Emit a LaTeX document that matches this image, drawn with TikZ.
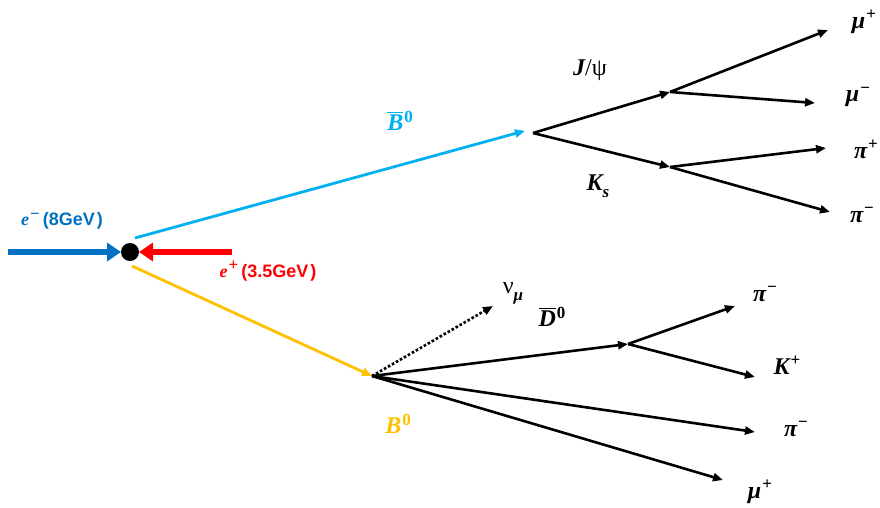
\documentclass[tikz,border=0pt]{standalone}
\usepackage{fontspec}
\newfontfamily\gsans{Liberation Sans}
\newfontfamily\pf{Liberation Serif}
\usetikzlibrary{arrows.meta}
\definecolor{ebl}{RGB}{0,112,192}
\definecolor{ered}{RGB}{255,0,0}
\definecolor{lbl}{RGB}{0,176,240}
\definecolor{yel}{RGB}{255,192,0}
\newcommand\pbi[1]{{\pf\bfseries\itshape #1}}
\newcommand\psup[1]{\hspace{1pt}\raisebox{0.36em}{\fontsize{17}{17}\selectfont\pf\bfseries\upshape #1}}
\newcommand\psub[1]{\raisebox{-0.28em}{\fontsize{17}{17}\selectfont\pf\bfseries\itshape #1}}
\newcommand\pbar[1]{\leavevmode\vbox{\hrule height 1.6pt\kern 1.8pt\hbox{#1}}}
\tikzset{
  trk/.style={line width=2.6pt,-{Triangle[length=10pt,width=8pt]}},
  beam/.style={line width=6pt,-{Triangle[length=14pt,width=18pt]}},
  lab/.style={inner sep=0pt,font=\fontsize{24}{26}\selectfont\pf},
  elab/.style={inner sep=0pt,font=\fontsize{18}{20}\selectfont},
}
\begin{document}
\begin{tikzpicture}[x=1pt,y=-1pt]
\useasboundingbox (0,0) rectangle (880,507);
% vertices
\coordinate (ip) at (130,252);
\coordinate (bbv) at (533,133);
\coordinate (jv) at (670,92);
\coordinate (kv) at (670,167);
\coordinate (bv) at (372,376);
\coordinate (dv) at (628,344);
% ends
\coordinate (emS) at (8,252);
\coordinate (emE) at (121,252);
\coordinate (epS) at (232,252);
\coordinate (epE) at (139,252);
\coordinate (bbS) at (135,238);
\coordinate (bS) at (132,266);
\coordinate (mupE) at (828,30);
\coordinate (mumE) at (815,103);
\coordinate (pipE) at (826,148);
\coordinate (pimE) at (830,212);
\coordinate (nuE) at (493,306);
\coordinate (dpimE) at (735,306);
\coordinate (kpE) at (755,377);
\coordinate (bpimE) at (755,432);
\coordinate (bmupE) at (723,480);
% beams
\draw[beam,ebl] (emS) -- (emE);
\draw[beam,ered] (epS) -- (epE);
\fill (ip) circle (9);
% B mesons
\draw[trk,lbl,line width=2.8pt] (bbS) -- ([xshift=-8pt,yshift=2.2pt]bbv);
\draw[trk,yel,line width=2.8pt] (bS) -- (bv);
% Bbar decay
\draw[trk] (bbv) -- (jv);
\draw[trk] (bbv) -- (kv);
\draw[trk] (jv) -- (mupE);
\draw[trk] (jv) -- (mumE);
\draw[trk] (kv) -- (pipE);
\draw[trk] (kv) -- (pimE);
% B decay
\draw[line width=2.6pt,dotted,-{Triangle[length=10pt,width=8pt]}] (bv) -- (nuE);
\draw[trk] (bv) -- (dv);
\draw[trk] (dv) -- (dpimE);
\draw[trk] (dv) -- (kpE);
\draw[trk] (bv) -- (bpimE);
\draw[trk] (bv) -- (bmupE);
% labels
\node[elab,text=ebl] (leminus) at (62,221) {\pbi{e}\psup{−}{\gsans\bfseries\hspace{3pt}(8GeV\hspace{2pt})}};
\node[elab,text=ered] (leplus) at (268,271) {\pbi{e}\psup{+}{\gsans\bfseries\hspace{3pt}(3.5GeV\hspace{2pt})}};
\node[lab,text=lbl] (lbbar) at (400,121) {\pbar{\pbi{B}}\psup{0}};
\node[lab,text=yel] (lb) at (398,424) {\pbi{B}\psup{0}};
\node[lab] (lj) at (590,70) {\pbi{J}/ψ};
\node[lab] (lk) at (598,186) {\pbi{K}\psub{s}};
\node[lab] (lmup) at (864,22) {\pbi{μ}\psup{+}};
\node[lab] (lmum) at (858,97) {\pbi{μ}\psup{−}};
\node[lab] (lpip) at (866,149) {\pbi{π}\psup{+}};
\node[lab] (lpim) at (862,215) {\pbi{π}\psup{−}};
\node[lab] (lnu) at (513,293) {ν\psub{μ}};
\node[lab] (ld) at (552,317) {\pbar{\pbi{D}}\psup{0}};
\node[lab] (ldpim) at (765,294) {\pbi{π}\psup{−}};
\node[lab] (lkp) at (787,365) {\pbi{K}\psup{+}};
\node[lab] (lbpim) at (796,429) {\pbi{π}\psup{−}};
\node[lab] (lbmup) at (760,492) {\pbi{μ}\psup{+}};
\end{tikzpicture}
\end{document}
